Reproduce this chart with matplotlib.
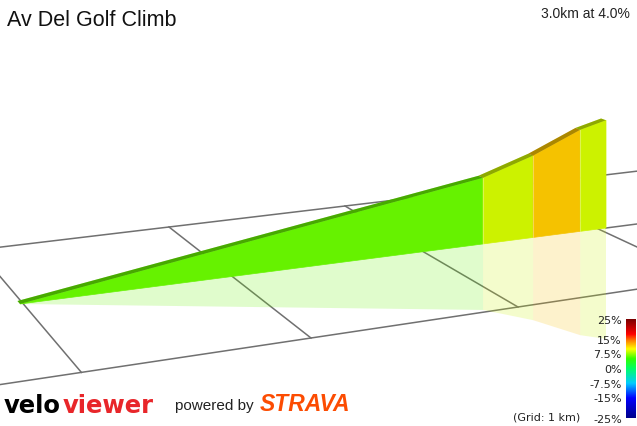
import numpy as np
import matplotlib
matplotlib.use("Agg")
import matplotlib.pyplot as plt
from matplotlib.colors import LinearSegmentedColormap

plt.rcParams['font.family'] = ['Liberation Sans', 'DejaVu Sans']

# ---- data ----
title = "Av Del Golf Climb"
summary = "3.0km at 4.0%"
dist_km = [0.0, 2.30, 2.58, 2.85, 3.0]
elev_m = [0.0, 75.0, 94.0, 118.0, 126.0]
seg_colors = ["#66f200", "#ccf200", "#f5c200", "#ccf200"]
grid_km = [0, 1, 2, 3]
cbar_labels = ["25%", "15%", "7.5%", "0%", "-7.5%", "-15%", "-25%"]

# ---- view: ground homography from four grid corners ----
src = [(1, -1), (2, -1), (1, 1), (2, 1)]
dst = [(169, 228), (345, 207), (311, 339), (518, 308)]
A = []
for (X, Y), (u, v) in zip(src, dst):
    A.append([X, Y, 1, 0, 0, 0, -u*X, -u*Y, -u])
    A.append([0, 0, 0, X, Y, 1, -v*X, -v*Y, -v])
A = np.array(A, float)
h = np.linalg.solve(A[:, :8], -A[:, 8])
H = np.append(h, 1.0).reshape(3, 3)
Hi = np.linalg.inv(H)

def inv(u, v):
    p = Hi @ [u, v, 1.0]
    return p[:2] / p[2]

P0 = inv(20, 305)
P1 = inv(606, 229)
total = dist_km[-1]
w0 = (H @ [*P0, 1])[2]

def ground(d):
    return P0 + (P1 - P0) * d / total

def proj(g, e=0.0):
    p = H @ [g[0], g[1], 1.0]
    return p[0]/p[2], p[1]/p[2] - e * 0.98 * (w0 / p[2])

def back(g, off):
    return g + np.array([0, -off])

fig = plt.figure(figsize=(6.37, 4.27), dpi=100)
ax = fig.add_axes([0, 0, 1, 1])
ax.set_xlim(0, 637); ax.set_ylim(427, 0); ax.axis("off")

gc = "#707070"
for l in [-1, 1]:
    pts = [proj((x, l)) for x in np.linspace(-1, 5, 30)]
    ax.plot(*zip(*pts), color=gc, lw=1.1, zorder=1)
for x in grid_km:
    pts = [proj((x, l)) for l in np.linspace(-1, 1, 20)]
    ax.plot(*zip(*pts), color=gc, lw=1.1, zorder=1)
pts = [proj(ground(d)) for d in np.linspace(total, total * 1.5, 10)]
ax.plot(*zip(*pts), color=gc, lw=1.1, zorder=1)

# shadow (cast straight down the picture)
def shadow(d, e):
    u, v = proj(ground(d))
    return u, v + e * 0.88

for i in range(len(seg_colors)):
    d0, d1 = dist_km[i], dist_km[i+1]
    e0, e1 = elev_m[i], elev_m[i+1]
    poly = [proj(ground(d0)), proj(ground(d1)), shadow(d1, e1), shadow(d0, e0)]
    ax.add_patch(plt.Polygon(poly, closed=True, fc=seg_colors[i], alpha=0.2, ec="none", zorder=2))

# profile
for i in range(len(seg_colors)):
    d0, d1 = dist_km[i], dist_km[i+1]
    e0, e1 = elev_m[i], elev_m[i+1]
    g0, g1 = ground(d0), ground(d1)
    side = [proj(g0), proj(g1), proj(g1, e1), proj(g0, e0)]
    ax.add_patch(plt.Polygon(side, closed=True, fc=seg_colors[i], ec=seg_colors[i], lw=0.5, zorder=3))
    top = [proj(g0, e0), proj(g1, e1), proj(back(g1, 0.05), e1), proj(back(g0, 0.05), e0)]
    ax.add_patch(plt.Polygon(top, closed=True, fc=seg_colors[i], ec="none", zorder=3))
    ax.add_patch(plt.Polygon(top, closed=True, fc="#000000", alpha=0.3, ec="none", zorder=4))
    if i > 0:
        ax.plot(*zip(proj(g0), proj(g0, e0)), color="white", alpha=0.3, lw=0.8, zorder=4)

# texts
ax.text(7, 20, title, fontsize=15.5, va="center", ha="left", color="#111111")
ax.text(630, 14, summary, fontsize=10, va="center", ha="right", color="#222222")
ax.text(4, 413, "velo", fontsize=17.5, fontweight="bold", color="black", va="baseline",
        family="DejaVu Sans")
ax.text(63, 413, "viewer", fontsize=17.5, fontweight="bold", color="#e8262a", va="baseline",
        family="DejaVu Sans")
ax.text(175, 410, "powered by", fontsize=11, color="#222222", va="baseline")
ax.text(260, 411, "STRAVA", fontsize=16.5, fontweight="bold", fontstyle="italic", color="#fc4c02", va="baseline")

# colorbar
cmap = LinearSegmentedColormap.from_list("grad", [(0, "#00008b"), (0.2, "#0000ff"), (0.35, "#00ccff"),
    (0.5, "#00ff66"), (0.6, "#33ff00"), (0.7, "#ffff00"), (0.78, "#ff8800"), (0.85, "#ff0000"), (1, "#7a0000")])
cax = fig.add_axes([626/637, 1-419/427, 10/637, 99/427])
cax.imshow(np.linspace(1, 0, 200)[:, None], aspect="auto", cmap=cmap, extent=[0, 1, 0, 1])
cax.set_xticks([])
cax.set_yticks([1.0, 0.8, 0.66, 0.5, 0.35, 0.21, 0.0])
cax.set_yticklabels(cbar_labels, fontsize=8, color="#222222", family="DejaVu Sans")
cax.tick_params(axis="y", length=0, pad=3)
for s in cax.spines.values():
    s.set_visible(False)
fig.text(580/637, 1-418/427, "(Grid: 1 km)", fontsize=8, ha="right", va="center", color="#222222",
         family="DejaVu Sans")

fig.savefig("out.png", dpi=100)
